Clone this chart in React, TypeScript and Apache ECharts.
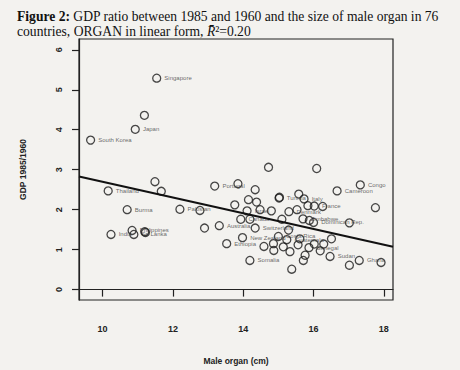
import React, { useEffect, useRef } from "react";
import * as echarts from "echarts";

const countries = [
  "Singapore", "", "Japan", "South Korea", "", "Thailand", "", "Burma", "Pakistan", "",
  "India", "Philippines", "Sri Lanka", "", "", "", "", "Portugal", "", "",
  "Tunisia", "", "Italy", "", "", "", "", "France", "", "",
  "Denmark", "Israel", "", "", "Canada", "", "", "Zimbabwe", "", "Dominican Rep.",
  "", "Cameroon", "Congo", "", "", "Australia", "Switzerland", "", "New Zealand", "Costa Rica",
  "Guatemala", "", "", "", "", "", "", "Senegal", "Ethiopia", "",
  "", "", "", "", "", "Somalia", "", "", "Sudan", "Ghana",
  "", "", ""
];
const organ = [
  11.54, 11.19, 10.93, 9.66, 11.49, 10.16, 11.67, 10.70, 12.20, 12.77,
  10.24, 10.84, 10.89, 11.20, 11.22, 14.72, 16.09, 13.19, 13.85, 14.34,
  15.02, 15.58, 15.73, 14.15, 14.38, 13.76, 15.84, 16.02, 16.26, 15.53,
  15.30, 14.11, 14.48, 14.80, 13.93, 14.19, 15.10, 15.70, 15.88, 16.00,
  17.02, 16.67, 17.33, 17.76, 12.90, 13.32, 14.34, 15.29, 13.98, 15.00,
  15.24, 15.61, 16.51, 16.02, 16.29, 16.19, 15.56, 15.87, 13.53, 14.59,
  14.86, 15.14, 14.87, 15.33, 15.76, 14.19, 15.71, 15.38, 16.47, 17.30,
  17.02, 17.92, 15.03
];
const gdpRatio = [
  5.29, 4.36, 4.01, 3.74, 2.70, 2.47, 2.46, 2.00, 2.01, 1.98,
  1.38, 1.48, 1.38, 1.45, 1.43, 3.06, 3.03, 2.59, 2.65, 2.50,
  2.29, 2.39, 2.27, 2.25, 2.19, 2.12, 2.10, 2.09, 2.08, 2.00,
  1.95, 1.97, 2.00, 1.97, 1.76, 1.76, 1.76, 1.77, 1.73, 1.68,
  1.67, 2.47, 2.62, 2.05, 1.54, 1.60, 1.54, 1.49, 1.30, 1.33,
  1.25, 1.27, 1.27, 1.14, 1.14, 0.97, 1.12, 1.05, 1.15, 1.08,
  1.15, 1.07, 0.98, 0.95, 0.86, 0.73, 0.73, 0.51, 0.83, 0.73,
  0.61, 0.68, 2.31
];
const xTicks = [10, 12, 14, 16, 18];
const yTicks = [0, 1, 2, 3, 4, 5, 6];
const xRange = [9.33, 18.26];
const yRange = [-0.26, 6.27];
const fitIntercept = 4.67;
const fitSlope = -0.197;

export default function App() {
  const ref = useRef<HTMLDivElement>(null);
  useEffect(() => {
    const chart = echarts.init(ref.current as HTMLDivElement, null, { renderer: "svg" });
    const axisText = { fontFamily: "Liberation Sans", fontWeight: "bold" as const, fontSize: 9, color: "#222" };
    chart.setOption({
      animation: false,
      backgroundColor: "#f3f2ef",
      title: {
        left: 12,
        top: 4,
        text: "{b|Figure 2:} GDP ratio between 1985 and 1960 and the size of male organ in 76\ncountries, ORGAN in linear form, {i|R\u0304}\u00b2=0.20",
        textStyle: {
          fontFamily: "Liberation Serif",
          fontSize: 13.6,
          fontWeight: "normal",
          color: "#111",
          lineHeight: 15,
          rich: {
            b: { fontFamily: "Liberation Serif", fontSize: 13.6, fontWeight: "bold", color: "#111", lineHeight: 15 },
            i: { fontFamily: "Liberation Serif", fontSize: 13.6, fontStyle: "italic", color: "#111", lineHeight: 15 },
          },
        },
      },
      grid: {
        left: 79,
        right: 67,
        top: 39,
        bottom: 68,
        show: true,
        borderColor: "#222",
        borderWidth: 1.2,
        backgroundColor: "transparent",
      },
      xAxis: {
        type: "value",
        min: xRange[0],
        max: xRange[1],
        splitLine: { show: false },
        axisLine: { show: true, lineStyle: { color: "#222", width: 1.2 } },
        axisTick: { show: true, customValues: xTicks, length: 7, lineStyle: { color: "#222", width: 1.2 } },
        axisLabel: { customValues: xTicks, margin: 24, ...axisText },
        name: "Male organ (cm)",
        nameLocation: "middle",
        nameGap: 56,
        nameTextStyle: { ...axisText, fontSize: 8.5 },
      },
      yAxis: {
        type: "value",
        min: yRange[0],
        max: yRange[1],
        splitLine: { show: false },
        axisLine: { show: true, lineStyle: { color: "#222", width: 1.2 } },
        axisTick: { show: true, customValues: yTicks, length: 7, lineStyle: { color: "#222", width: 1.2 } },
        axisLabel: { customValues: yTicks, margin: 16, rotate: 90, ...axisText },
        name: "GDP 1985/1960",
        nameLocation: "middle",
        nameRotate: 90,
        nameGap: 52,
        nameTextStyle: { ...axisText, fontSize: 8.5 },
      },
      series: [
        {
          type: "scatter",
          symbol: "circle",
          symbolSize: 8,
          data: organ.map((x, i) => ({ value: [x, gdpRatio[i]], name: countries[i] })),
          itemStyle: { color: "rgba(0,0,0,0)", borderColor: "#1a1a1a", borderWidth: 1.3 },
          label: {
            show: true,
            position: "right",
            distance: 3,
            formatter: (p: any) => p.name,
            fontFamily: "Liberation Sans",
            fontSize: 6,
            color: "#444",
          },
          emphasis: { disabled: true },
        },
        {
          type: "line",
          symbol: "none",
          data: xRange.map((x) => [x, fitIntercept + fitSlope * x]),
          lineStyle: { color: "#111", width: 2 },
          emphasis: { disabled: true },
        },
      ],
    });
    return () => chart.dispose();
  }, []);
  return <div ref={ref} style={{ position: "absolute", left: 0, top: 0, width: 460, height: 370 }} />;
}
